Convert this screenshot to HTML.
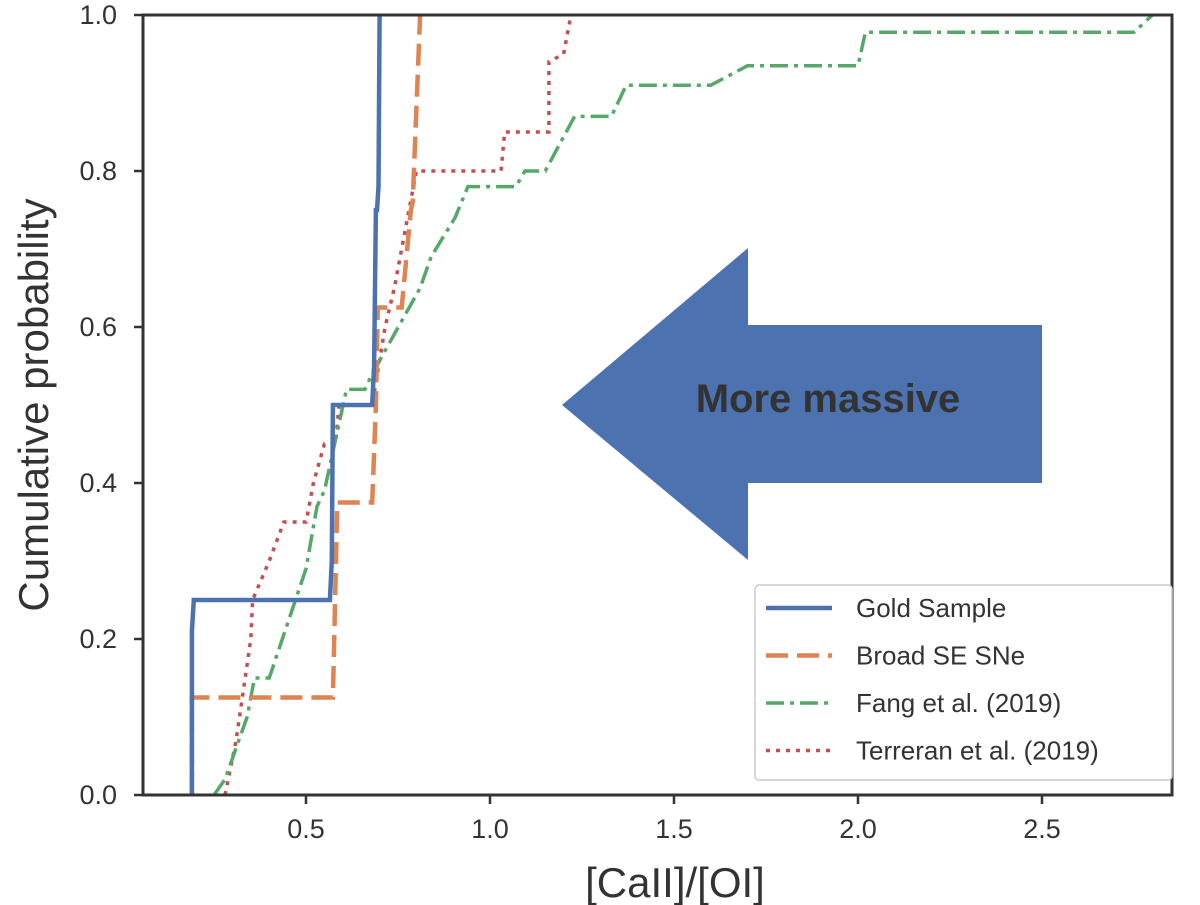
<!DOCTYPE html>
<html><head><meta charset="utf-8"><style>
body{margin:0;background:#fff}
svg{display:block;font-family:"Liberation Sans","DejaVu Sans",sans-serif}
</style></head><body>
<svg id="chart" width="1200" height="905" viewBox="0 0 1200 905">
<g id="marks"></g>
<g id="axes"></g>
<polygon points="562,405 748,248 748,325 1042,325 1042,483 748,483 748,560" fill="#4c72b0"/>
<text x="828" y="412" text-anchor="middle" font-size="40" font-weight="bold" fill="#333">More massive</text>
<text x="675" y="897" text-anchor="middle" font-size="42" fill="#333">[CaII]/[OI]</text>
<text transform="translate(48,405) rotate(-90)" text-anchor="middle" font-size="42" fill="#333">Cumulative probability</text>
<g id="legend"></g>
</svg>
<script>
const xTicks=[0.5,1.0,1.5,2.0,2.5];
const xTickLabels=["0.5","1.0","1.5","2.0","2.5"];
const yTicks=[0,0.2,0.4,0.6,0.8,1.0];
const yTickLabels=["0.0","0.2","0.4","0.6","0.8","1.0"];
const seriesNames=["Gold Sample","Broad SE SNe","Fang et al. (2019)","Terreran et al. (2019)"];
const goldX=[0.19,0.19,0.195,0.565,0.57,0.573,0.68,0.685,0.69,0.693,0.697,0.70];
const goldY=[0,0.21,0.25,0.25,0.30,0.5,0.5,0.55,0.75,0.75,0.78,1.0];
const broadX=[0.19,0.19,0.573,0.585,0.68,0.69,0.695,0.76,0.785,0.79,0.81];
const broadY=[0,0.125,0.125,0.375,0.375,0.5,0.625,0.625,0.75,0.76,1.0];
const fangX=[0.25,0.28,0.34,0.36,0.40,0.50,0.53,0.55,0.61,0.66,0.68,0.81,0.84,0.905,0.94,1.07,1.095,1.15,1.23,1.33,1.37,1.60,1.70,2.00,2.02,2.75,2.80];
const fangY=[0,0.02,0.10,0.15,0.15,0.29,0.37,0.39,0.52,0.52,0.54,0.65,0.69,0.74,0.78,0.78,0.80,0.80,0.87,0.87,0.91,0.91,0.935,0.935,0.978,0.978,1.0];
const terX=[0.28,0.31,0.35,0.355,0.40,0.44,0.50,0.52,0.55,0.58,0.59,0.68,0.715,0.74,0.78,0.80,1.03,1.04,1.16,1.16,1.20,1.22];
const terY=[0,0.07,0.20,0.25,0.30,0.35,0.35,0.40,0.45,0.45,0.50,0.50,0.60,0.65,0.75,0.80,0.80,0.85,0.85,0.94,0.95,1.0];

const L=143,R=1172,T=15,B=795;
const xs=v=>122+368*v;
const ys=v=>B-(B-T)*v;
const NS="http://www.w3.org/2000/svg";
function mk(tag,attrs,parent){const e=document.createElementNS(NS,tag);for(const k in attrs)e.setAttribute(k,attrs[k]);parent.appendChild(e);return e;}
const marks=document.getElementById('marks'),axes=document.getElementById('axes'),legend=document.getElementById('legend');
const styles=[
 {c:"#4c72b0",d:"",w:4.5},
 {c:"#dd8452",d:"22,9",w:4.5},
 {c:"#55a868",d:"18,6,4,6",w:3.5},
 {c:"#c44e52",d:"4,6",w:3.5}];
const series=[[goldX,goldY],[broadX,broadY],[fangX,fangY],[terX,terY]];
const clip=mk('clipPath',{id:'cp'},marks);
mk('rect',{x:L,y:T,width:R-L,height:B-T},clip);
const names=['gold-sample-line','broad-se-sne-line','fang-line','terreran-line'];
for(let i=3;i>=0;i--){
 const [X,Y]=series[i];
 const pts=X.map((x,j)=>xs(x).toFixed(1)+','+ys(Y[j]).toFixed(1)).join(' ');
 const p=mk('polyline',{points:pts,fill:'none',stroke:styles[i].c,'stroke-width':styles[i].w,'stroke-dasharray':styles[i].d,'clip-path':'url(#cp)'},marks);
 
 
}
const frame=mk('rect',{x:L,y:T,width:R-L,height:B-T,fill:'none',stroke:'#333','stroke-width':3},axes);


xTicks.forEach((v,i)=>{
 const t=mk('line',{x1:xs(v),x2:xs(v),y1:B,y2:B+9,stroke:'#333','stroke-width':2.5},axes);
 
 
 const l=mk('text',{x:xs(v),y:B+43,'text-anchor':'middle','font-size':27,fill:'#333'},axes);
 l.textContent=xTickLabels[i];
 
 
});
yTicks.forEach((v,i)=>{
 const t=mk('line',{x1:L-9,x2:L,y1:ys(v),y2:ys(v),stroke:'#333','stroke-width':2.5},axes);
 
 
 const l=mk('text',{x:L-26,y:ys(v)+9,'text-anchor':'end','font-size':27,fill:'#333'},axes);
 l.textContent=yTickLabels[i];
 
 
});
const box=mk('rect',{x:755,y:585,width:417,height:195,rx:4,fill:'#fff',stroke:'#ccc','stroke-width':1.5},legend);


seriesNames.forEach((n,i)=>{
 const y=608+i*47.5;
 const g=mk('g',{},legend);
 
 
 mk('line',{x1:766,x2:832,y1:y,y2:y,stroke:styles[i].c,'stroke-width':styles[i].w,'stroke-dasharray':styles[i].d},g);
 const t=mk('text',{x:856,y:y+9,'font-size':26,fill:'#333'},g);
 t.textContent=n;
});
</script>
</body></html>
